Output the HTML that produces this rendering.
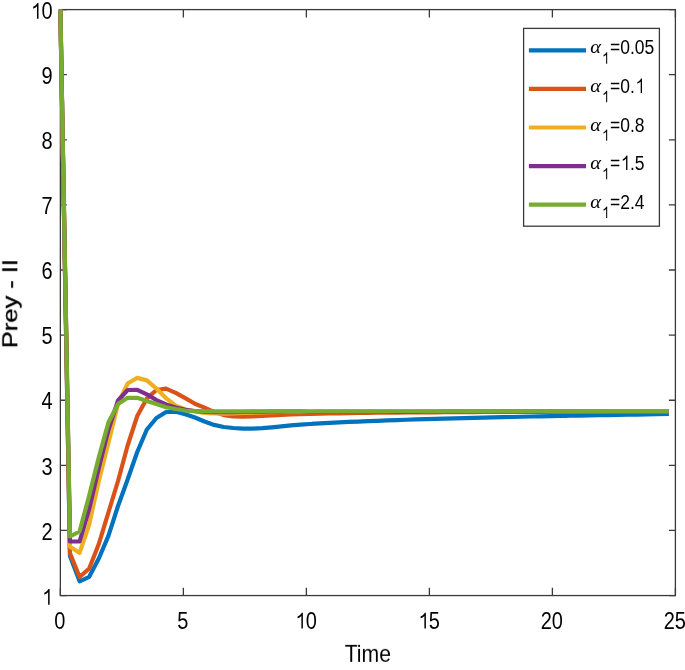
<!DOCTYPE html>
<html><head><meta charset="utf-8"><style>
html,body{margin:0;padding:0;background:#fff;}
svg{display:block;}
</style></head><body>
<svg width="685" height="670" viewBox="0 0 685 670" style="will-change:transform">
<rect width="685" height="670" fill="#fff"/>
<g style="opacity:0.999">
<g stroke="#3a3a3a" stroke-width="1.3" fill="none" stroke-linecap="square">
<rect x="60.36" y="9.6" width="615.04" height="585.95"/>
<path d="M60.36,595.55 v-7.8 M60.36,9.6 v7.8 M183.37,595.55 v-7.8 M183.37,9.6 v7.8 M306.38,595.55 v-7.8 M306.38,9.6 v7.8 M429.38,595.55 v-7.8 M429.38,9.6 v7.8 M552.39,595.55 v-7.8 M552.39,9.6 v7.8 M675.40,595.55 v-7.8 M675.40,9.6 v7.8 M60.36,595.55 h6.5 M675.4,595.55 h-6.5 M60.36,530.44 h6.5 M675.4,530.44 h-6.5 M60.36,465.34 h6.5 M675.4,465.34 h-6.5 M60.36,400.23 h6.5 M675.4,400.23 h-6.5 M60.36,335.13 h6.5 M675.4,335.13 h-6.5 M60.36,270.02 h6.5 M675.4,270.02 h-6.5 M60.36,204.92 h6.5 M675.4,204.92 h-6.5 M60.36,139.81 h6.5 M675.4,139.81 h-6.5 M60.36,74.71 h6.5 M675.4,74.71 h-6.5 M60.36,9.60 h6.5 M675.4,9.60 h-6.5 " stroke-linecap="butt"/>
</g>
<g fill="none" stroke-width="4.20" stroke-linejoin="round" stroke-linecap="butt">
<path d="M60.36,9.60 L69.97,556.00 L79.58,581.30 L89.19,576.80 L98.80,558.50 L108.41,535.90 L118.02,506.00 L127.63,479.50 L137.24,452.00 L146.85,429.50 L156.46,418.00 L166.07,412.00 L175.68,411.80 L185.29,414.30 L194.90,417.50 L204.51,421.50 L214.12,424.90 L223.73,427.00 L233.34,428.00 L242.95,428.70 L252.56,428.60 L262.17,428.10 L271.78,427.30 L281.39,426.38 L291.00,425.46 L300.61,424.56 L310.22,424.01 L319.83,423.46 L329.44,422.91 L339.05,422.35 L348.66,421.93 L358.27,421.55 L367.88,421.17 L377.49,420.79 L387.10,420.41 L396.71,420.03 L406.32,419.73 L415.93,419.47 L425.54,419.21 L435.15,418.95 L444.76,418.69 L454.37,418.42 L463.98,418.16 L473.59,417.91 L483.20,417.68 L492.81,417.45 L502.42,417.21 L512.03,416.98 L521.64,416.75 L531.25,416.51 L540.86,416.28 L550.47,416.11 L560.08,415.94 L569.69,415.76 L579.30,415.59 L588.91,415.41 L598.52,415.24 L608.13,415.07 L617.74,414.89 L627.35,414.72 L636.96,414.54 L646.57,414.37 L656.18,414.20 L668.90,414.02" stroke="#0072BD"/>
<path d="M60.36,9.60 L69.97,553.20 L79.58,577.00 L89.19,568.50 L98.80,544.00 L108.41,512.50 L118.02,481.00 L127.63,445.50 L137.24,416.00 L146.85,398.40 L156.46,390.00 L166.07,388.60 L175.68,392.80 L185.29,398.20 L194.90,403.80 L204.51,407.60 L214.12,411.80 L223.73,415.10 L233.34,416.30 L242.95,416.70 L252.56,416.30 L262.17,415.80 L271.78,415.40 L281.39,414.90 L291.00,414.40 L300.61,414.17 L310.22,413.94 L319.83,413.70 L329.44,413.51 L339.05,413.32 L348.66,413.13 L358.27,413.00 L367.88,412.89 L377.49,412.77 L387.10,412.65 L396.71,412.54 L406.32,412.46 L415.93,412.40 L425.54,412.35 L435.15,412.29 L444.76,412.23 L454.37,412.17 L463.98,412.12 L473.59,412.06 L483.20,412.00 L492.81,411.94 L502.42,411.89 L512.03,411.87 L521.64,411.85 L531.25,411.83 L540.86,411.80 L550.47,411.78 L560.08,411.76 L569.69,411.73 L579.30,411.71 L588.91,411.69 L598.52,411.66 L608.13,411.64 L617.74,411.62 L627.35,411.59 L636.96,411.57 L646.57,411.55 L656.18,411.53 L668.90,411.50" stroke="#D95319"/>
<path d="M60.36,9.60 L69.97,546.50 L79.58,552.90 L89.19,524.50 L98.80,481.00 L108.41,443.00 L118.02,404.00 L127.63,383.50 L137.24,377.90 L146.85,380.40 L156.46,388.60 L166.07,398.20 L175.68,405.60 L185.29,409.30 L194.90,411.50 L204.51,413.00 L214.12,413.50 L223.73,413.60 L233.34,413.40 L242.95,413.00 L252.56,412.60 L262.17,412.30 L271.78,412.10 L281.39,411.90 L291.00,411.80 L300.61,411.70 L310.22,411.98 L319.83,411.96 L329.44,411.94 L339.05,411.93 L348.66,411.91 L358.27,411.89 L367.88,411.87 L377.49,411.85 L387.10,411.83 L396.71,411.82 L406.32,411.80 L415.93,411.78 L425.54,411.76 L435.15,411.74 L444.76,411.72 L454.37,411.71 L463.98,411.69 L473.59,411.67 L483.20,411.65 L492.81,411.63 L502.42,411.61 L512.03,411.60 L521.64,411.58 L531.25,411.56 L540.86,411.54 L550.47,411.52 L560.08,411.50 L569.69,411.49 L579.30,411.47 L588.91,411.45 L598.52,411.43 L608.13,411.41 L617.74,411.39 L627.35,411.38 L636.96,411.36 L646.57,411.34 L656.18,411.32 L668.90,411.30" stroke="#EDB120"/>
<path d="M60.36,9.60 L69.97,541.50 L79.58,541.50 L89.19,509.00 L98.80,468.00 L108.41,430.00 L118.02,400.50 L127.63,390.00 L137.24,389.80 L146.85,394.30 L156.46,400.10 L166.07,404.50 L175.68,407.60 L185.29,409.90 L194.90,411.00 L204.51,411.80 L214.12,412.10 L223.73,412.20 L233.34,412.10 L242.95,412.00 L252.56,411.90 L262.17,411.80 L271.78,411.70 L281.39,411.60 L291.00,411.50 L300.61,411.50 L310.22,411.98 L319.83,411.96 L329.44,411.94 L339.05,411.93 L348.66,411.91 L358.27,411.89 L367.88,411.87 L377.49,411.85 L387.10,411.83 L396.71,411.82 L406.32,411.80 L415.93,411.78 L425.54,411.76 L435.15,411.74 L444.76,411.72 L454.37,411.71 L463.98,411.69 L473.59,411.67 L483.20,411.65 L492.81,411.63 L502.42,411.61 L512.03,411.60 L521.64,411.58 L531.25,411.56 L540.86,411.54 L550.47,411.52 L560.08,411.50 L569.69,411.49 L579.30,411.47 L588.91,411.45 L598.52,411.43 L608.13,411.41 L617.74,411.39 L627.35,411.38 L636.96,411.36 L646.57,411.34 L656.18,411.32 L668.90,411.30" stroke="#7E2F8E"/>
<path d="M60.36,9.60 L69.97,536.50 L79.58,531.50 L89.19,495.50 L98.80,457.30 L108.41,422.50 L118.02,404.00 L127.63,397.80 L137.24,397.80 L146.85,400.90 L156.46,404.10 L166.07,407.20 L175.68,409.00 L185.29,410.50 L194.90,411.10 L204.51,411.30 L214.12,411.30 L223.73,411.30 L233.34,411.30 L242.95,411.30 L252.56,411.30 L262.17,411.30 L271.78,411.30 L281.39,411.30 L291.00,411.30 L300.61,411.30 L310.22,411.30 L319.83,411.29 L329.44,411.29 L339.05,411.29 L348.66,411.29 L358.27,411.28 L367.88,411.28 L377.49,411.28 L387.10,411.28 L396.71,411.27 L406.32,411.27 L415.93,411.27 L425.54,411.27 L435.15,411.26 L444.76,411.26 L454.37,411.26 L463.98,411.26 L473.59,411.25 L483.20,411.25 L492.81,411.25 L502.42,411.24 L512.03,411.24 L521.64,411.24 L531.25,411.24 L540.86,411.23 L550.47,411.23 L560.08,411.23 L569.69,411.23 L579.30,411.22 L588.91,411.22 L598.52,411.22 L608.13,411.22 L617.74,411.21 L627.35,411.21 L636.96,411.21 L646.57,411.21 L656.18,411.20 L668.90,411.20" stroke="#77AC30"/>
</g>
<g font-family="Liberation Sans, sans-serif" fill="#000">
<text transform="translate(54.20,628.50) scale(1.0,1.15)" font-size="20">0</text>
<text transform="translate(177.21,628.50) scale(1.0,1.15)" font-size="20">5</text>
<path d="M843 0H688V1115Q615 1050 508 990Q400 935 298 905V1062Q458 1128 570 1224Q682 1320 730 1409H843Z" transform="translate(294.65,628.50) scale(0.00977,-0.01123)"/>
<text transform="translate(305.78,628.50) scale(1.0,1.15)" font-size="20">0</text>
<path d="M843 0H688V1115Q615 1050 508 990Q400 935 298 905V1062Q458 1128 570 1224Q682 1320 730 1409H843Z" transform="translate(417.66,628.50) scale(0.00977,-0.01123)"/>
<text transform="translate(428.78,628.50) scale(1.0,1.15)" font-size="20">5</text>
<text transform="translate(540.67,628.50) scale(1.0,1.15)" font-size="20">20</text>
<text transform="translate(663.68,628.50) scale(1.0,1.15)" font-size="20">25</text>
<path d="M843 0H688V1115Q615 1050 508 990Q400 935 298 905V1062Q458 1128 570 1224Q682 1320 730 1409H843Z" transform="translate(41.38,604.75) scale(0.00977,-0.01123)"/>
<text transform="translate(41.38,539.64) scale(1.0,1.15)" font-size="20">2</text>
<text transform="translate(41.38,474.54) scale(1.0,1.15)" font-size="20">3</text>
<text transform="translate(41.38,409.43) scale(1.0,1.15)" font-size="20">4</text>
<text transform="translate(41.38,344.33) scale(1.0,1.15)" font-size="20">5</text>
<text transform="translate(41.38,279.22) scale(1.0,1.15)" font-size="20">6</text>
<text transform="translate(41.38,214.12) scale(1.0,1.15)" font-size="20">7</text>
<text transform="translate(41.38,149.01) scale(1.0,1.15)" font-size="20">8</text>
<text transform="translate(41.38,83.91) scale(1.0,1.15)" font-size="20">9</text>
<path d="M843 0H688V1115Q615 1050 508 990Q400 935 298 905V1062Q458 1128 570 1224Q682 1320 730 1409H843Z" transform="translate(30.25,18.80) scale(0.00977,-0.01123)"/>
<text transform="translate(41.38,18.80) scale(1.0,1.15)" font-size="20">0</text>
<text transform="translate(367.8,662.0) scale(1.01,1.15)" font-size="21" text-anchor="middle">Time</text>
<text transform="translate(17.2,303.6) rotate(-90) scale(1.06,0.87)" font-size="24" stroke="#000" stroke-width="0.4" text-anchor="middle">Prey - II</text>
</g>
<rect x="523.6" y="28.4" width="135.80" height="197.80" fill="#fff" stroke="#3a3a3a" stroke-width="1.3"/>
<line x1="528.9" x2="586" y1="50.40" y2="50.40" stroke="#0072BD" stroke-width="4.2"/>
<g font-family="Liberation Sans, sans-serif" fill="#000">
<text transform="translate(590.3,53.40) scale(1.2,1.1)" font-size="17" font-family="Liberation Serif, serif" font-style="italic">&#945;</text>
<path d="M843 0H688V1115Q615 1050 508 990Q400 935 298 905V1062Q458 1128 570 1224Q682 1320 730 1409H843Z" transform="translate(601.50,63.70) scale(0.00674,-0.00809)"/>
<text transform="translate(610.00,54.40) scale(1.0,1.2)" font-size="17.5">=0.05</text>
</g>
<line x1="528.9" x2="586" y1="88.95" y2="88.95" stroke="#D95319" stroke-width="4.2"/>
<g font-family="Liberation Sans, sans-serif" fill="#000">
<text transform="translate(590.3,91.95) scale(1.2,1.1)" font-size="17" font-family="Liberation Serif, serif" font-style="italic">&#945;</text>
<path d="M843 0H688V1115Q615 1050 508 990Q400 935 298 905V1062Q458 1128 570 1224Q682 1320 730 1409H843Z" transform="translate(601.50,102.25) scale(0.00674,-0.00809)"/>
<text transform="translate(610.00,92.95) scale(1.0,1.2)" font-size="17.5">=0.</text>
<path d="M843 0H688V1115Q615 1050 508 990Q400 935 298 905V1062Q458 1128 570 1224Q682 1320 730 1409H843Z" transform="translate(634.81,92.95) scale(0.00854,-0.01025)"/>
</g>
<line x1="528.9" x2="586" y1="127.50" y2="127.50" stroke="#EDB120" stroke-width="4.2"/>
<g font-family="Liberation Sans, sans-serif" fill="#000">
<text transform="translate(590.3,130.50) scale(1.2,1.1)" font-size="17" font-family="Liberation Serif, serif" font-style="italic">&#945;</text>
<path d="M843 0H688V1115Q615 1050 508 990Q400 935 298 905V1062Q458 1128 570 1224Q682 1320 730 1409H843Z" transform="translate(601.50,140.80) scale(0.00674,-0.00809)"/>
<text transform="translate(610.00,131.50) scale(1.0,1.2)" font-size="17.5">=0.8</text>
</g>
<line x1="528.9" x2="586" y1="166.05" y2="166.05" stroke="#7E2F8E" stroke-width="4.2"/>
<g font-family="Liberation Sans, sans-serif" fill="#000">
<text transform="translate(590.3,169.05) scale(1.2,1.1)" font-size="17" font-family="Liberation Serif, serif" font-style="italic">&#945;</text>
<path d="M843 0H688V1115Q615 1050 508 990Q400 935 298 905V1062Q458 1128 570 1224Q682 1320 730 1409H843Z" transform="translate(601.50,179.35) scale(0.00674,-0.00809)"/>
<text transform="translate(610.00,170.05) scale(1.0,1.2)" font-size="17.5">=</text>
<path d="M843 0H688V1115Q615 1050 508 990Q400 935 298 905V1062Q458 1128 570 1224Q682 1320 730 1409H843Z" transform="translate(620.22,170.05) scale(0.00854,-0.01025)"/>
<text transform="translate(629.95,170.05) scale(1.0,1.2)" font-size="17.5">.5</text>
</g>
<line x1="528.9" x2="586" y1="204.60" y2="204.60" stroke="#77AC30" stroke-width="4.2"/>
<g font-family="Liberation Sans, sans-serif" fill="#000">
<text transform="translate(590.3,207.60) scale(1.2,1.1)" font-size="17" font-family="Liberation Serif, serif" font-style="italic">&#945;</text>
<path d="M843 0H688V1115Q615 1050 508 990Q400 935 298 905V1062Q458 1128 570 1224Q682 1320 730 1409H843Z" transform="translate(601.50,217.90) scale(0.00674,-0.00809)"/>
<text transform="translate(610.00,208.60) scale(1.0,1.2)" font-size="17.5">=2.4</text>
</g>
</g>
</svg>
</body></html>
